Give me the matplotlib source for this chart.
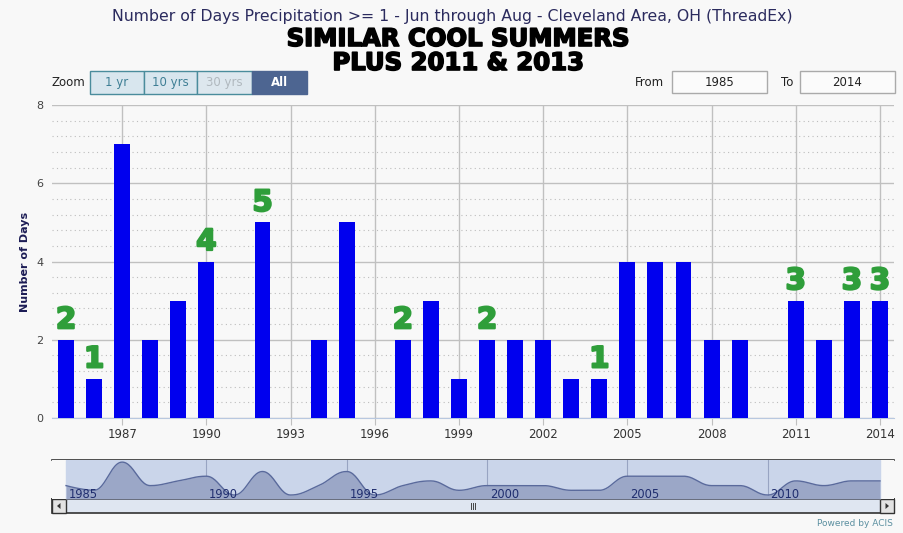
import numpy as np
import matplotlib
matplotlib.use("Agg")
import matplotlib.pyplot as plt
import matplotlib.patheffects as pe
from matplotlib.patches import Rectangle, Polygon
from matplotlib.ticker import MultipleLocator

# ---------------- data ----------------
years = list(range(1985, 2015))
days = [2, 1, 7, 2, 3, 4, 0, 5, 0, 2, 5, 0, 2, 3, 1, 2, 2, 2, 1, 1,
        4, 4, 4, 2, 2, 0, 3, 2, 3, 3]
highlight_years = [1985, 1986, 1990, 1992, 1997, 2000, 2004, 2011, 2013, 2014]
xtick_years = list(range(1987, 2015, 3))
ytick_vals = [0, 2, 4, 6, 8]
nav_label_years = [1985, 1990, 1995, 2000, 2005, 2010]
zoom_buttons = ["1 yr", "10 yrs", "30 yrs", "All"]
from_year, to_year = "1985", "2014"

title = "Number of Days Precipitation >= 1 - Jun through Aug - Cleveland Area, OH (ThreadEx)"
heading1 = "SIMILAR COOL SUMMERS"
heading2 = "PLUS 2011 & 2013"

W, H = 904, 533
BG = "#f8f8f8"
fig = plt.figure(figsize=(W / 100, H / 100), dpi=100, facecolor=BG)


def fx(x):
    return x / W


def fy(y):
    return 1 - y / H


def axes_px(x0, y0, x1, y1, **kw):
    return fig.add_axes([fx(x0), fy(y1), (x1 - x0) / W, (y1 - y0) / H], **kw)


# ---------------- main chart ----------------
ax = axes_px(52, 105, 894, 418)
ax.set_facecolor(BG)
ax.set_xlim(1984.5, 2014.5)
ax.set_ylim(0, 8)
ax.bar(years, days, width=0.57, color="#0000ee", zorder=3)
ax.set_yticks(ytick_vals)
ax.yaxis.set_minor_locator(MultipleLocator(0.4))
ax.set_xticks(xtick_years)
ax.grid(axis="y", which="major", color="#c0c0c0", lw=1, zorder=0)
ax.grid(axis="y", which="minor", color="#bdbdbd", lw=0.8, ls=(0, (1, 3)), zorder=0)
ax.grid(axis="x", which="major", color="#c0c0c0", lw=1, zorder=0)
for s in ["top", "right", "left"]:
    ax.spines[s].set_visible(False)
ax.spines["bottom"].set_color("#b8c8e0")
ax.tick_params(axis="y", which="both", length=0, labelsize=8, labelcolor="#444444", pad=6)
ax.tick_params(axis="x", which="major", length=5, color="#c0c0c0", labelsize=8.5,
               labelcolor="#333333", pad=2)
ax.tick_params(axis="x", which="minor", length=0)
ax.set_ylabel("Number of Days", fontsize=8, fontweight="bold", color="#1c1c55", labelpad=5)

green_fx = [pe.withStroke(linewidth=1.6, foreground="#2f9e3a")]
for yr in highlight_years:
    v = days[years.index(yr)]
    ax.text(yr, v + 0.14, str(v), ha="center", va="bottom", fontsize=21,
            fontweight="bold", color="#2f9e3a", zorder=5, path_effects=green_fx)

# ---------------- titles ----------------
fig.text(fx(452), fy(17), title, ha="center", va="center", fontsize=11.3, color="#2b2b5e")
black_fx = [pe.withStroke(linewidth=1.2, foreground="black")]
fig.text(fx(458), fy(39), heading1, ha="center", va="center", fontsize=17.5,
         fontweight="bold", color="black", path_effects=black_fx)
fig.text(fx(458), fy(63), heading2, ha="center", va="center", fontsize=17.5,
         fontweight="bold", color="black", path_effects=black_fx)

# ---------------- zoom buttons / range inputs ----------------
ui = axes_px(0, 0, W, H)
ui.set_xlim(0, W)
ui.set_ylim(H, 0)
ui.axis("off")
ui.patch.set_alpha(0)

ui.text(68, 82, "Zoom", ha="center", va="center", fontsize=8.5, color="#222222")
btn_x = [90, 144, 197, 252, 307]
for i, lab in enumerate(zoom_buttons):
    x0, x1 = btn_x[i], btn_x[i + 1]
    if lab == "All":
        fc, tc, ec, fw = "#4d6591", "white", "#4d6591", "bold"
    elif lab == "30 yrs":
        fc, tc, ec, fw = "#dde7ee", "#b0b8be", "#4a8c9c", "normal"
    else:
        fc, tc, ec, fw = "#d8e6ee", "#3f7f95", "#4a8c9c", "normal"
    ui.add_patch(Rectangle((x0, 71), x1 - x0, 23, fc=fc, ec=ec, lw=1))
    ui.text((x0 + x1) / 2, 82.5, lab, ha="center", va="center", fontsize=8.5,
            color=tc, fontweight=fw)

ui.text(649, 82, "From", ha="center", va="center", fontsize=8.5, color="#222222")
ui.add_patch(Rectangle((672, 71), 95, 22, fc="#fbfbfb", ec="#aaaaaa", lw=1))
ui.text(719.5, 82, from_year, ha="center", va="center", fontsize=8.5, color="#222222")
ui.text(787, 82, "To", ha="center", va="center", fontsize=8.5, color="#222222")
ui.add_patch(Rectangle((800, 71), 95, 22, fc="#fbfbfb", ec="#aaaaaa", lw=1))
ui.text(847.5, 82, to_year, ha="center", va="center", fontsize=8.5, color="#222222")

# ---------------- navigator ----------------
nav = axes_px(52, 460, 894, 499)
nav.set_xlim(1984.5, 2014.5)
nav.set_ylim(-0.85, 7.45)
nav.set_facecolor(BG)
for s in nav.spines.values():
    s.set_visible(False)
nav.set_xticks([])
nav.set_yticks([])

# mask (selected range)
nav.axvspan(years[0], years[-1], color="#cad5ea", zorder=0)


def hc_spline(xs, ys, smoothing=1.5):
    """Highcharts-style spline control points, then sample cubic Beziers."""
    n = len(xs)
    lc = [(xs[i], ys[i]) for i in range(n)]
    rc = [(xs[i], ys[i]) for i in range(n)]
    den = smoothing + 1
    for i in range(1, n - 1):
        lx, ly = xs[i - 1], ys[i - 1]
        px, py = xs[i], ys[i]
        nx, ny = xs[i + 1], ys[i + 1]
        lcx = (smoothing * px + lx) / den
        lcy = (smoothing * py + ly) / den
        rcx = (smoothing * px + nx) / den
        rcy = (smoothing * py + ny) / den
        if rcx != lcx:
            corr = ((rcy - lcy) * (rcx - px)) / (rcx - lcx) + py - rcy
            lcy += corr
            rcy += corr
        if lcy > ly and lcy > py:
            lcy = max(ly, py); rcy = 2 * py - lcy
        elif lcy < ly and lcy < py:
            lcy = min(ly, py); rcy = 2 * py - lcy
        if rcy > ny and rcy > py:
            rcy = max(ny, py); lcy = 2 * py - rcy
        elif rcy < ny and rcy < py:
            rcy = min(ny, py); lcy = 2 * py - rcy
        lc[i] = (lcx, lcy)
        rc[i] = (rcx, rcy)
    t = np.linspace(0, 1, 25)[:, None]
    out = []
    for i in range(n - 1):
        p0 = np.array([xs[i], ys[i]])
        p1 = np.array(rc[i])
        p2 = np.array(lc[i + 1])
        p3 = np.array([xs[i + 1], ys[i + 1]])
        seg = ((1 - t) ** 3) * p0 + 3 * ((1 - t) ** 2) * t * p1 + 3 * (1 - t) * t ** 2 * p2 + t ** 3 * p3
        out.append(seg if i == 0 else seg[1:])
    pts = np.vstack(out)
    return pts[:, 0], pts[:, 1]


sx, sy = hc_spline(np.array(years, float), np.array(days, float))
nav.fill_between(sx, sy, -0.85, color="#9ba7c7", lw=0, zorder=2)
nav.plot(sx, sy, color="#5a6a9c", lw=1, zorder=3)

for yr in nav_label_years:
    if yr != years[0]:
        nav.axvline(yr, color="#98a4c2", lw=0.8, zorder=1)
    nav.text(yr + 0.1, 0.15, str(yr), ha="left", va="center", fontsize=8.3,
             color="#1f2d6e", zorder=4)

# outline / handles / scrollbar in pixel space
ui.plot([52, 894], [460, 460], color="#333333", lw=1.2)
ui.plot([52, 894], [499, 499], color="#333333", lw=1.2)
for hx in (66, 880):
    ui.plot([hx, hx], [460, 499], color="#555555", lw=1)
    ui.add_patch(Rectangle((hx - 4, 472), 8, 14, fc="white", ec="#555555", lw=0.8, zorder=5))
    ui.plot([hx - 1, hx - 1], [475, 483], color="#444444", lw=0.7, zorder=6)
    ui.plot([hx + 1, hx + 1], [475, 483], color="#444444", lw=0.7, zorder=6)

ui.add_patch(Rectangle((52, 499), 842, 14, fc="#dfe6f1", ec="#333333", lw=1.2))
ui.add_patch(Rectangle((52, 499), 14, 14, fc="#e2e2e2", ec="#333333", lw=1))
ui.add_patch(Rectangle((880, 499), 14, 14, fc="#e2e2e2", ec="#333333", lw=1))
ui.add_patch(Polygon([[60.5, 503], [60.5, 509], [57, 506]], closed=True, fc="#333333", ec="none"))
ui.add_patch(Polygon([[885.5, 503], [885.5, 509], [889, 506]], closed=True, fc="#333333", ec="none"))
for dx in (-2, 0, 2):
    ui.plot([473 + dx, 473 + dx], [503, 509], color="#444444", lw=0.7)

ui.text(893, 524, "Powered by ACIS", ha="right", va="center", fontsize=6.5, color="#5b8fa0")

fig.savefig("out.png", dpi=100, facecolor=BG)
